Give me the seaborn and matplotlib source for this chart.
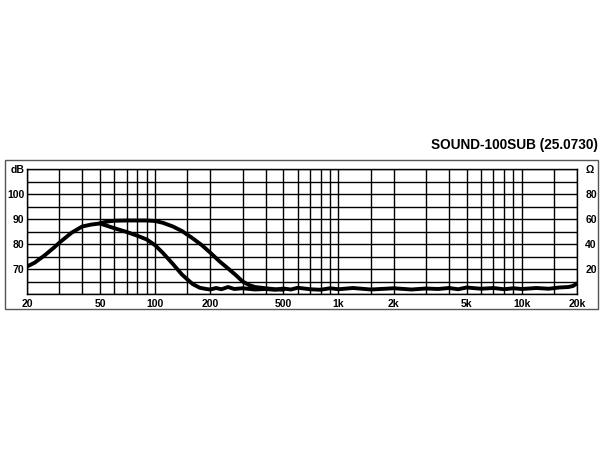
import matplotlib
matplotlib.use("Agg")
import matplotlib.pyplot as plt
from matplotlib.patches import Rectangle
import seaborn as sns

# Frequency response (Hz / dB)
freq_a = [20, 22, 25, 28, 30, 35, 40, 45, 50, 55, 60, 70, 80, 90, 100, 110, 125, 140,
          150, 160, 175, 190, 200, 215, 230, 250, 270, 300, 350, 400, 450, 500, 550, 600,
          700, 800, 900, 1000, 1200, 1500, 1800, 2000, 2500, 3000, 3500, 4000, 4500, 5000,
          6000, 7000, 8000, 9000, 10000, 12000, 14000, 16000, 18000, 19000, 20000]
spl_a = [71, 72.5, 75.5, 78.5, 80.5, 84.5, 87, 87.8, 88.2, 87.2, 86.3, 84.8, 83.3, 81.8,
         79.5, 76.5, 72, 67.8, 65.8, 64, 62.5, 62, 61.8, 62.4, 61.9, 62.8, 62, 62.3, 61.8,
         62, 61.7, 62.2, 61.8, 62.5, 61.9, 61.7, 62.3, 61.9, 62.4, 61.8, 62.1, 62.3, 61.8,
         62.2, 62.0, 62.4, 61.9, 62.6, 62.1, 62.4, 61.9, 62.3, 62.0, 62.4, 62.1, 62.6, 62.8,
         63.2, 64.2]

freq_b = [50, 55, 60, 70, 80, 90, 100, 110, 125, 140, 160, 180, 200, 225, 250, 275, 300,
          325, 350, 400, 450, 500]
spl_b = [88.3, 89, 89.3, 89.4, 89.4, 89.4, 89.2, 88.5, 87, 85.2, 82.3, 79.5, 76.5, 73, 70.2,
         67.6, 65, 63.6, 62.8, 62.3, 61.9, 61.7]

x_grid = [20, 30, 40, 50, 60, 70, 80, 90, 100, 150, 200, 300, 400, 500, 600, 700, 800, 900,
          1000, 1500, 2000, 3000, 4000, 5000, 6000, 7000, 8000, 9000, 10000, 15000, 20000]
x_labels = {20: "20", 50: "50", 100: "100", 200: "200", 500: "500", 1000: "1k",
            2000: "2k", 5000: "5k", 10000: "10k", 20000: "20k"}
db_ticks = [60, 65, 70, 75, 80, 85, 90, 95, 100, 105, 110]
db_labels = {70: "70", 80: "80", 90: "90", 100: "100", 110: "dB"}
ohm_ticks = [0, 10, 20, 30, 40, 50, 60, 70, 80, 90, 100]
ohm_labels = {20: "20", 40: "40", 60: "60", 80: "80", 100: "Ω"}
title = "SOUND-100SUB (25.0730)"

sns.set_style("white")
plt.rcParams["font.family"] = ["Liberation Sans", "DejaVu Sans"]
plt.rcParams["text.color"] = "black"
plt.rcParams["xtick.color"] = "black"
plt.rcParams["ytick.color"] = "black"

fig = plt.figure(figsize=(6, 4.5), dpi=100)
ax = fig.add_axes([27 / 600, 1 - 294 / 450, 550 / 600, 125 / 450])

sns.lineplot(x=freq_a, y=spl_a, ax=ax, color="black", lw=2.8)
sns.lineplot(x=freq_b, y=spl_b, ax=ax, color="black", lw=2.8)

ax.set_xscale("log")
ax.set_xlim(20, 20000)
ax.set_ylim(60, 110)
ax.set_xticks(x_grid)
ax.set_xticklabels([x_labels.get(f, "") for f in x_grid])
ax.minorticks_off()
ax.set_yticks(db_ticks)
ax.set_yticklabels([db_labels.get(v, "") for v in db_ticks])
ax.grid(True, color="black", lw=1)
ax.tick_params(length=0, labelsize=7.5, pad=2, labelcolor="black")
ax.tick_params(axis="x", pad=3.5)
for lab in ax.get_xticklabels() + ax.get_yticklabels():
    lab.set_fontweight("bold")
for s in ax.spines.values():
    s.set_color("black")
    s.set_linewidth(1)
ax.set_xlabel("")
ax.set_ylabel("")

ax2 = ax.twinx()
ax2.set_ylim(0, 100)
ax2.set_yticks(ohm_ticks)
ax2.set_yticklabels([ohm_labels.get(v, "") for v in ohm_ticks])
ax2.tick_params(length=0, labelsize=7.5, pad=6, labelcolor="black")
for lab in ax2.get_yticklabels():
    lab.set_fontweight("bold")
for s in ax2.spines.values():
    s.set_visible(False)

# outer frame
fig.patches.append(Rectangle((5 / 600, 1 - 309 / 450), 593 / 600, 149 / 450,
                             transform=fig.transFigure, fill=False,
                             edgecolor="#555555", lw=1))

fig.text(598 / 600, 1 - 145 / 450, title, ha="right", va="center",
         fontsize=9.8, fontweight="bold", color="black")

fig.savefig("out.png", dpi=100)
